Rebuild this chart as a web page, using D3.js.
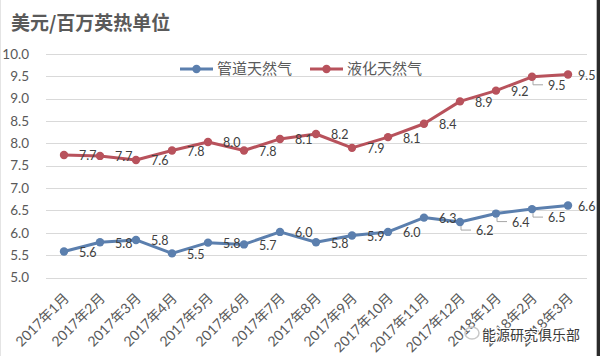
<!DOCTYPE html>
<html><head><meta charset="utf-8">
<script src="https://cdn.jsdelivr.net/npm/d3@7"></script>
<style>
html,body{margin:0;padding:0;background:#fff;}
svg{display:block;}
</style></head>
<body>
<svg id="chart" width="600" height="356"></svg>
<script>
const months = ["2017年1月","2017年2月","2017年3月","2017年4月","2017年5月","2017年6月","2017年7月","2017年8月","2017年9月","2017年10月","2017年11月","2017年12月","2018年1月","2018年2月","2018年3月"];
const pipeGas = [5.58,5.79,5.84,5.54,5.78,5.74,6.02,5.79,5.94,6.02,6.34,6.24,6.43,6.53,6.61];
const lng = [7.74,7.72,7.63,7.84,8.03,7.84,8.10,8.21,7.90,8.14,8.44,8.94,9.18,9.49,9.54];
const seriesNames = ["管道天然气","液化天然气"];
const yTicks = [5.0,5.5,6.0,6.5,7.0,7.5,8.0,8.5,9.0,9.5,10.0];
const titleText = "美元/百万英热单位";
const watermark = "能源研究俱乐部";
const leaderPipe = ["2017年12月","2018年1月","2018年2月"];
const leaderLng = ["2018年2月"];

const colors = ["#5b7fae","#b8525c"];
const font = "Lato, 'Noto Sans CJK SC', sans-serif";
const svg = d3.select("#chart");

// frame
svg.append("rect").attr("x",0).attr("y",0).attr("width",600).attr("height",356).attr("fill","#fff");
svg.append("line").attr("x1",0.5).attr("x2",0.5).attr("y1",0).attr("y2",356).attr("stroke","#e4e4e4");
svg.append("rect").attr("x",597).attr("y",0).attr("width",3).attr("height",356).attr("fill","#2b2b2b");
svg.append("line").attr("x1",596.5).attr("x2",596.5).attr("y1",0).attr("y2",356).attr("stroke","#bbbbbb");

const x = d3.scaleBand().domain(months).range([46,586]).padding(0);
const cx = d => x(d) + x.bandwidth()/2;
const y = d3.scaleLinear().domain([5,10]).range([277.5,54]);

// gridlines
svg.append("g").selectAll("line").data(yTicks).join("line")
  .attr("x1",46).attr("x2",587)
  .attr("y1",d=>Math.round(y(d))+0.5).attr("y2",d=>Math.round(y(d))+0.5)
  .attr("stroke","#d9d9d9").attr("stroke-width",1);

// y labels
svg.append("g").selectAll("text").data(yTicks).join("text")
  .attr("x",29).attr("y",d=>y(d)).attr("dy","0.35em")
  .attr("text-anchor","end").attr("font-family",font).attr("font-size",13.5)
  .attr("fill","#595959").text(d=>d.toFixed(1));

// x labels
svg.append("g").selectAll("text").data(months).join("text")
  .attr("transform",d=>`translate(${cx(d)+6},299) rotate(-45)`)
  .attr("text-anchor","end").attr("font-family",font).attr("font-size",14)
  .attr("fill","#595959").text(d=>d);

// title
svg.append("text").attr("x",11).attr("y",23).attr("dy","0.38em")
  .attr("font-family","'Noto Sans CJK SC', sans-serif").attr("font-weight","bold")
  .attr("font-size",19).attr("fill","#5a5a5a").text(titleText);

const series = [
  {name:seriesNames[0], values:pipeGas, color:colors[0], leaders:leaderPipe},
  {name:seriesNames[1], values:lng, color:colors[1], leaders:leaderLng}
];

const line = d3.line().x((v,i)=>cx(months[i])).y(v=>y(v));

series.forEach(s=>{
  const g = svg.append("g");
  g.append("path").datum(s.values).attr("d",line)
    .attr("fill","none").attr("stroke",s.color).attr("stroke-width",3).attr("stroke-linejoin","round");
  g.selectAll("circle").data(s.values).join("circle")
    .attr("cx",(v,i)=>cx(months[i])).attr("cy",v=>y(v)).attr("r",4.2)
    .attr("fill",s.color);
  // leader lines
  g.selectAll("path.leader").data(s.values.map((v,i)=>({v,m:months[i]})).filter(d=>s.leaders.includes(d.m)))
    .join("path").attr("class","leader")
    .attr("d",d=>{const px=cx(d.m), py=y(d.v); return `M${px+1},${py+4}V${py+8}H${px+11}`;})
    .attr("fill","none").attr("stroke","#a6a6a6").attr("stroke-width",1);
  g.selectAll("text").data(s.values).join("text")
    .attr("x",(v,i)=>Math.min(578, cx(months[i]) + 15 + (s.leaders.includes(months[i])?1:0)))
    .attr("y",(v,i)=>y(v) + 1 + (s.leaders.includes(months[i])?8:0))
    .attr("dy","0.35em")
    .attr("font-family",font).attr("font-size",12.5).attr("fill","#404040")
    .text(v=>v.toFixed(1));
});

// legend
const legendItems = [{x:180, s:series[0]},{x:310, s:series[1]}];
legendItems.forEach(li=>{
  const g = svg.append("g");
  g.append("line").attr("x1",li.x).attr("x2",li.x+33).attr("y1",69).attr("y2",69)
    .attr("stroke",li.s.color).attr("stroke-width",3);
  g.append("circle").attr("cx",li.x+16.5).attr("cy",69).attr("r",4.2).attr("fill",li.s.color);
  g.append("text").attr("x",li.x+37).attr("y",69).attr("dy","0.36em")
    .attr("font-family","'Noto Sans CJK SC', sans-serif").attr("font-size",15)
    .attr("fill","#595959").text(li.s.name);
});

// watermark
const wm = svg.append("g");
wm.append("ellipse").attr("cx",472).attr("cy",333).attr("rx",7).attr("ry",6)
  .attr("fill","none").attr("stroke","#c8c8c8").attr("stroke-width",1.5);
wm.append("text").attr("x",482).attr("y",335).attr("dy","0.36em")
  .attr("font-family","'Noto Sans CJK SC', sans-serif").attr("font-size",14)
  .attr("fill","#3a3a3a").attr("stroke","#ffffff").attr("stroke-width",2.5)
  .attr("paint-order","stroke").text(watermark);
</script>
</body></html>
